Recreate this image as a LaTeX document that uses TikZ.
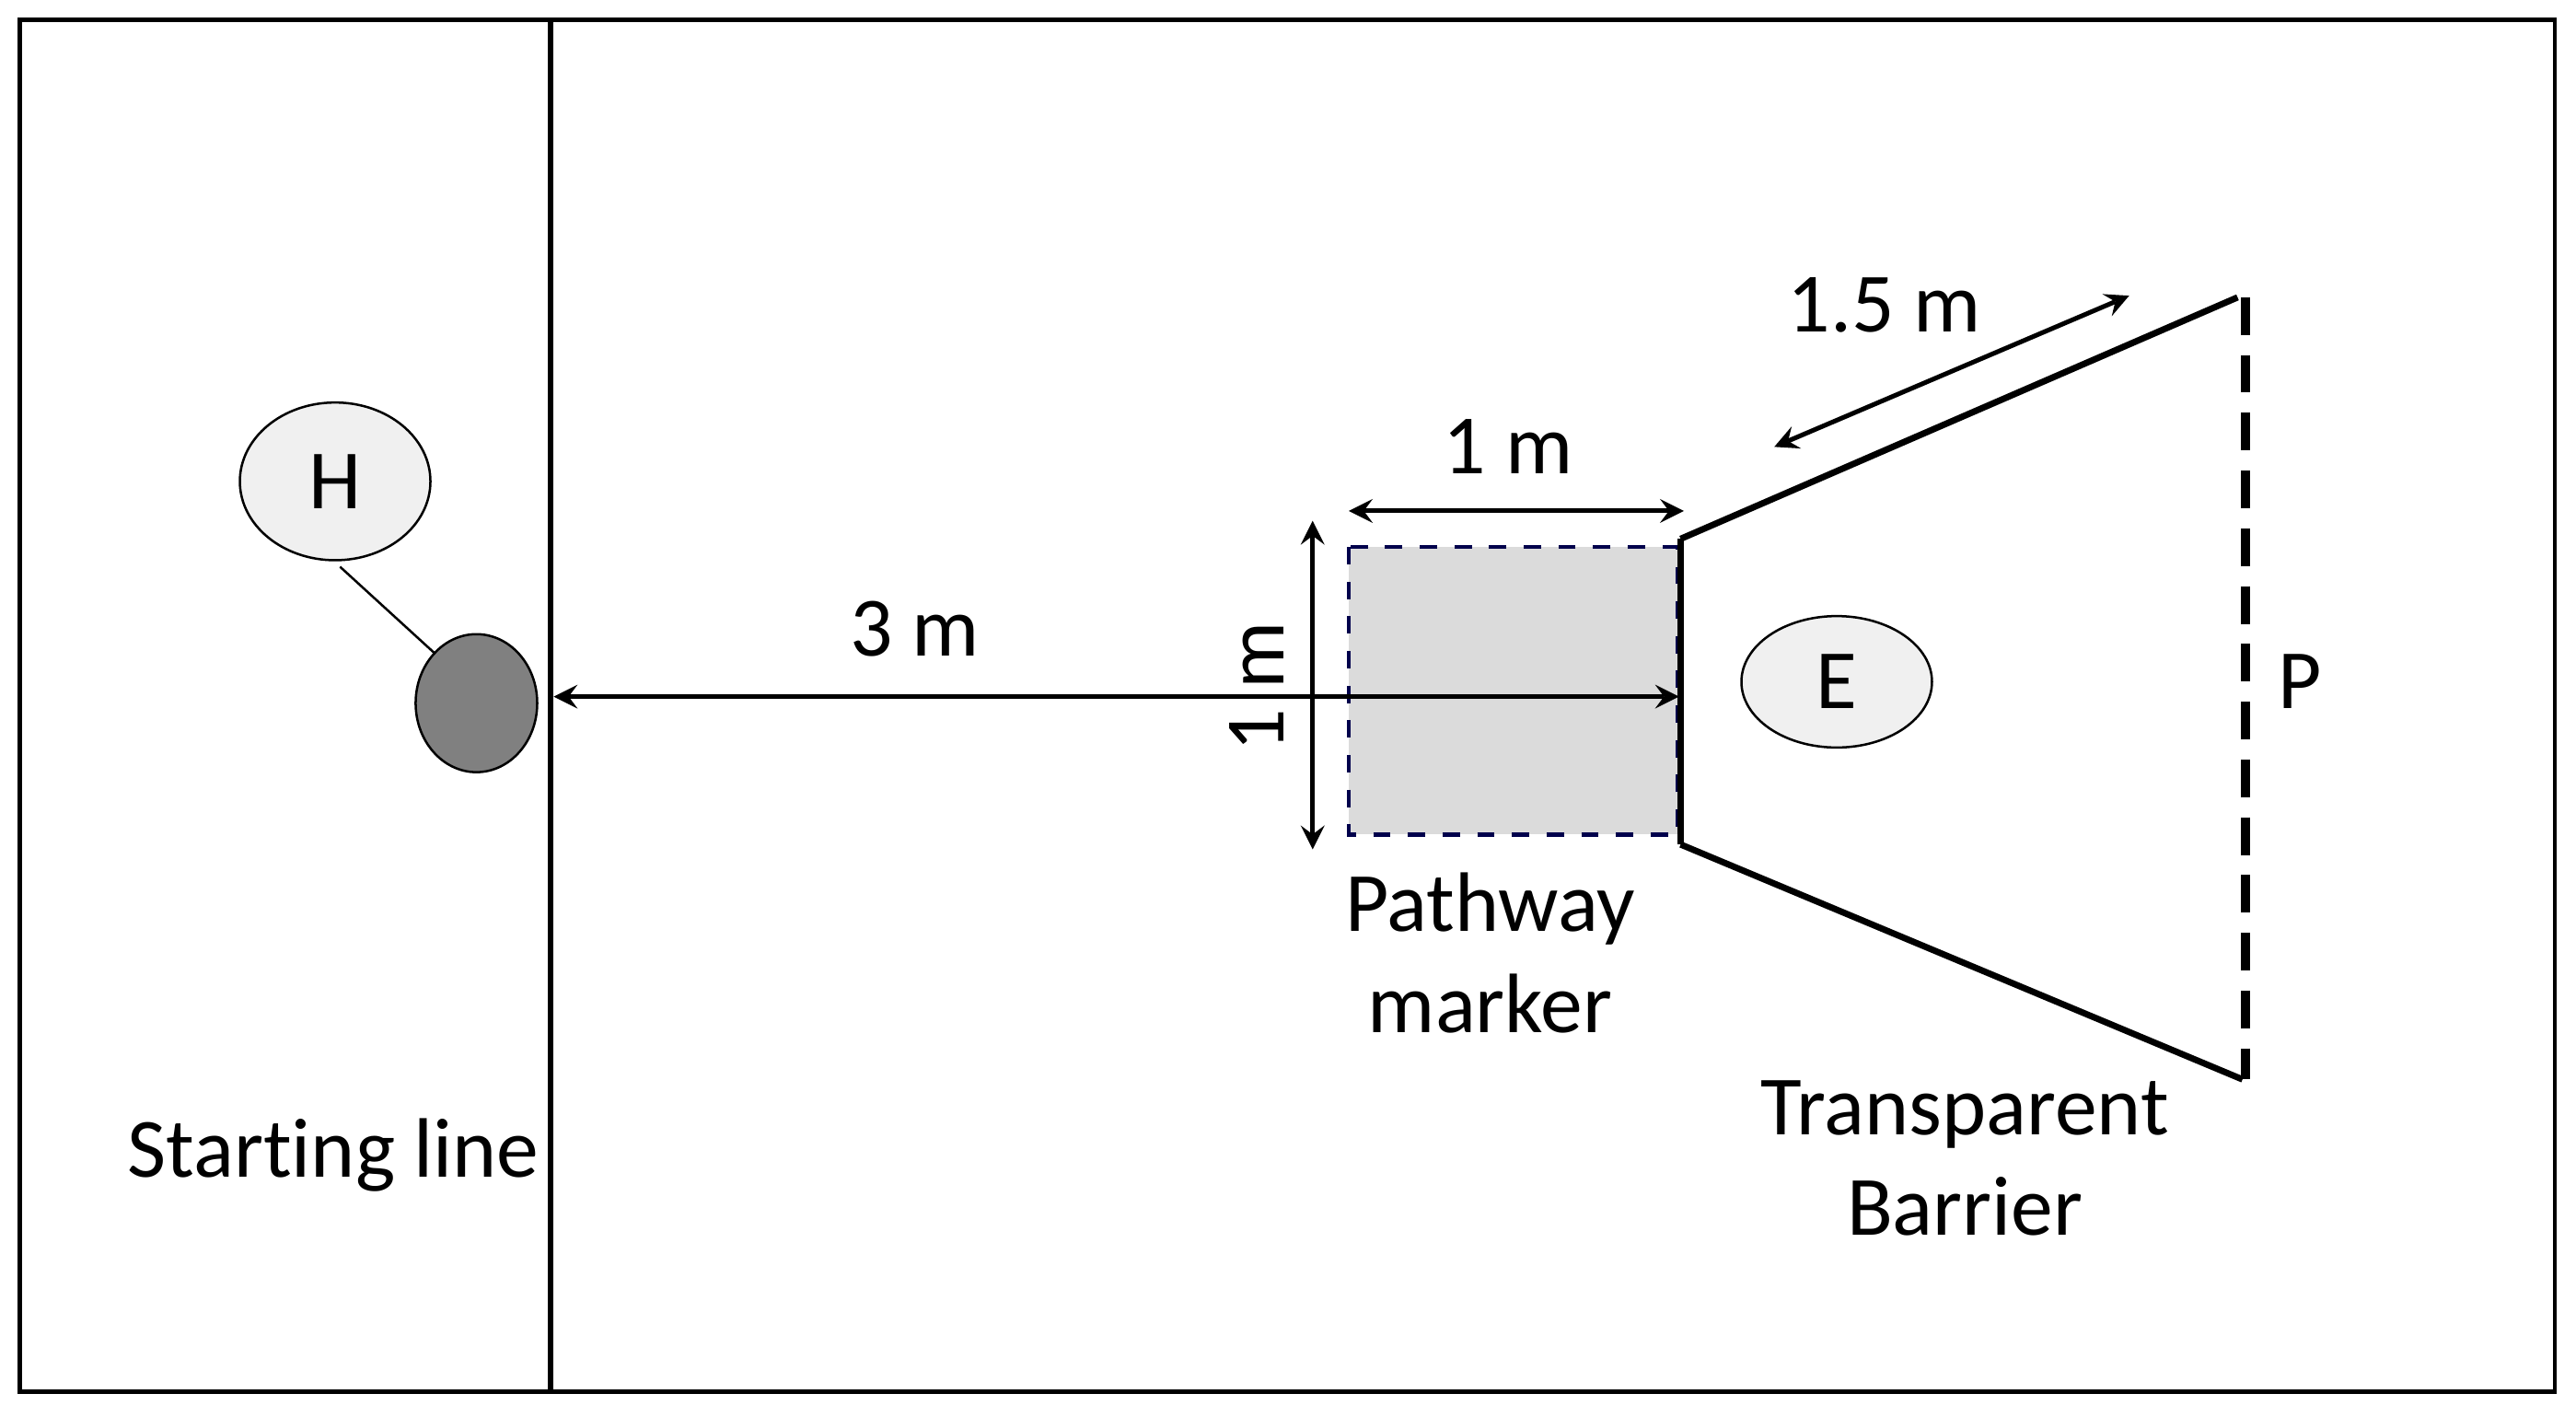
\documentclass[tikz,border=0pt]{standalone}
\usepackage{fontspec}
\setmainfont{Carlito}[Ligatures=NoCommon]
\begin{document}
\begin{tikzpicture}[x=0.01cm,y=-0.01cm,
  lbl/.style={font=\fontsize{14.6}{17.5}\selectfont,align=center},
  dim/.style={<->,>=stealth,line width=0.8pt},
  bar/.style={line width=1.1pt}]
\useasboundingbox (0,0) rectangle (1568,862);
\draw[line width=0.7pt] (12,12) rectangle (1555,847);
\coordinate (s1) at (335,12); \coordinate (s2) at (335,847);
\draw[line width=0.9pt] (s1) -- (s2);
\draw[fill=black!6] (204,293) ellipse [x radius=58,y radius=48];
\coordinate (h) at (207,345); \coordinate (d) at (265,398);
\node[lbl] (H) at (204,293) {H};
\draw[fill=black!50] (290,428) ellipse [x radius=37,y radius=42];
\draw[line width=0.4pt] (h) -- (d);
\draw[dashed,draw=blue!30!black,fill=black!14,line width=0.7pt] (821,333) rectangle (1021,508);
\coordinate (a1) at (337,424); \coordinate (a2) at (1022,424);
\draw[dim] (a1) -- (a2);
\node[lbl] (l3) at (557,383) {3 m};
\coordinate (t1) at (821,311); \coordinate (t2) at (1025,311);
\draw[dim] (t1) -- (t2);
\node[lbl] (l1) at (918,272) {1 m};
\coordinate (v1) at (799,317); \coordinate (v2) at (799,517);
\draw[dim] (v1) -- (v2);
\node[lbl,rotate=90] (l1v) at (765,418) {1 m};
\coordinate (b1) at (1023,328); \coordinate (b2) at (1023,514);
\coordinate (b3) at (1362,181); \coordinate (b4) at (1365,657);
\draw[bar] (b1) -- (b2);
\draw[bar] (b1) -- (b3);
\draw[bar] (b2) -- (b4);
\coordinate (p1) at (1367,181); \coordinate (p2) at (1367,657);
\draw[line width=1.6pt,dash pattern=on 6.5pt off 3.5pt] (p1) -- (p2);
\coordinate (r1) at (1080,272); \coordinate (r2) at (1296,180);
\draw[dim] (r1) -- (r2);
\node[lbl] (l15) at (1147,186) {1.5 m};
\draw[fill=black!6] (1118,415) ellipse [x radius=58,y radius=40];
\node[lbl] (E) at (1118,415) {E};
\node[lbl] (P) at (1400,415) {P};
\node[lbl] (pm) at (907,580) {Pathway\\marker};
\node[lbl] (tb) at (1196,705) {Transparent\\Barrier};
\node[lbl] (sl) at (203,703) {Starting line};
\end{tikzpicture}
\end{document}
